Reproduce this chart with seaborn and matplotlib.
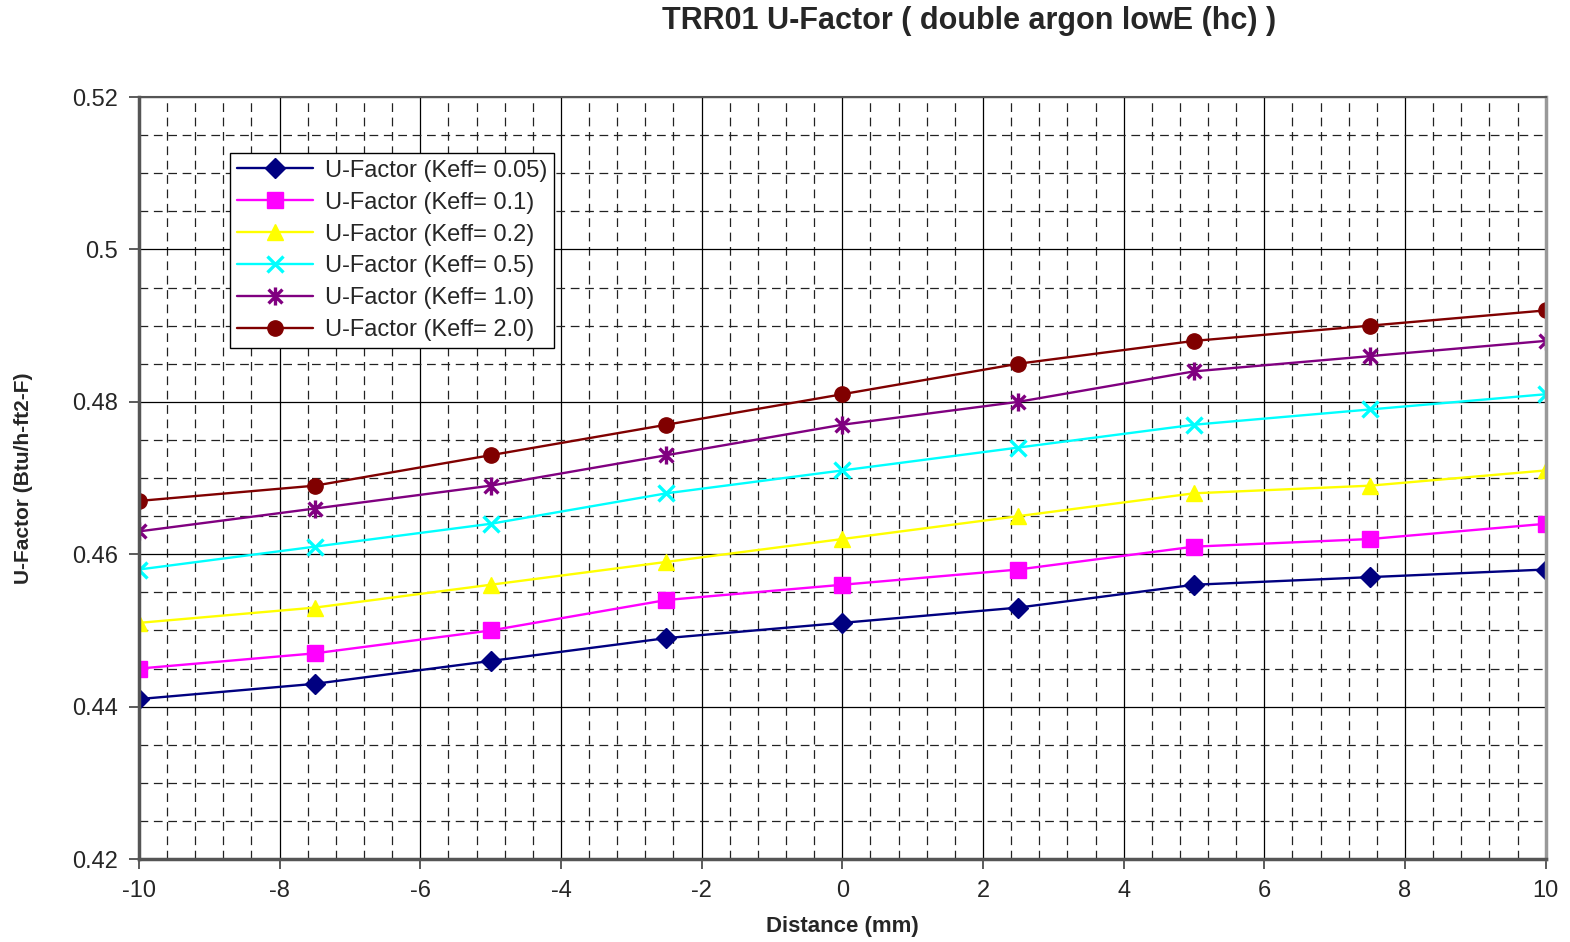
import numpy as np
import pandas as pd
import seaborn as sns
import matplotlib.pyplot as plt
import matplotlib.ticker as ticker
from matplotlib.path import Path

# --- data ---
distance = [-10, -7.5, -5, -2.5, 0, 2.5, 5, 7.5, 10]
series_names = ['U-Factor (Keff= 0.05)', 'U-Factor (Keff= 0.1)', 'U-Factor (Keff= 0.2)',
                'U-Factor (Keff= 0.5)', 'U-Factor (Keff= 1.0)', 'U-Factor (Keff= 2.0)']
keff_005 = [0.441, 0.443, 0.446, 0.449, 0.451, 0.453, 0.456, 0.457, 0.458]
keff_01  = [0.445, 0.447, 0.450, 0.454, 0.456, 0.458, 0.461, 0.462, 0.464]
keff_02  = [0.451, 0.453, 0.456, 0.459, 0.462, 0.465, 0.468, 0.469, 0.471]
keff_05  = [0.458, 0.461, 0.464, 0.468, 0.471, 0.474, 0.477, 0.479, 0.481]
keff_10  = [0.463, 0.466, 0.469, 0.473, 0.477, 0.480, 0.484, 0.486, 0.488]
keff_20  = [0.467, 0.469, 0.473, 0.477, 0.481, 0.485, 0.488, 0.490, 0.492]
x_ticks = [-10, -8, -6, -4, -2, 0, 2, 4, 6, 8, 10]
y_ticks = [0.42, 0.44, 0.46, 0.48, 0.5, 0.52]
y_tick_labels = ['0.42', '0.44', '0.46', '0.48', '0.5', '0.52']

colors = ['#000080', '#FF00FF', '#FFFF00', '#00FFFF', '#800080', '#800000']

# excel style star: x plus vertical bar
star = Path([(-1, -1), (1, 1), (-1, 1), (1, -1), (0, -1.3), (0, 1.3)],
            [Path.MOVETO, Path.LINETO, Path.MOVETO, Path.LINETO, Path.MOVETO, Path.LINETO])
markers = ['D', 's', '^', 'x', star, 'o']
msizes = [10, 11, 12, 12, 13, 11]

values = [keff_005, keff_01, keff_02, keff_05, keff_10, keff_20]
df = pd.concat([pd.DataFrame({'Distance': distance, 'U': v, 'Series': n})
                for n, v in zip(series_names, values)], ignore_index=True)

sns.set_style('white')
plt.rcParams['font.family'] = ['Liberation Sans', 'DejaVu Sans']

fig = plt.figure(figsize=(15.7, 9.42), dpi=100)
ax = fig.add_axes([0.0885, 0.088, 0.896, 0.809])

for name, c, m, ms in zip(series_names, colors, markers, msizes):
    sns.lineplot(data=df[df['Series'] == name], x='Distance', y='U', ax=ax,
                 color=c, marker=m, markersize=ms, markeredgecolor=c,
                 markeredgewidth=2.4 if (m == 'x' or m is star) else 1,
                 linewidth=1.7, label=name)

ax.set_xlim(-10, 10)
ax.set_ylim(0.42, 0.52)
ax.set_xticks(x_ticks)
ax.set_xticklabels([str(t) for t in x_ticks])
ax.set_yticks(y_ticks)
ax.set_yticklabels(y_tick_labels)
ax.xaxis.set_minor_locator(ticker.MultipleLocator(0.4))
ax.yaxis.set_minor_locator(ticker.MultipleLocator(0.005))
ax.grid(which='major', color='black', linewidth=0.9, linestyle='-')
ax.grid(which='minor', color='#222222', linewidth=0.9, linestyle=(0, (7, 4.5)))
ax.set_axisbelow(True)
ax.tick_params(axis='both', which='major', direction='out', length=7, width=1.2,
               color='#404040', labelsize=17, bottom=True, left=True, pad=8)
ax.tick_params(axis='both', which='minor', length=0)

ax.spines['left'].set_color('#555555')
ax.spines['left'].set_linewidth(2.5)
ax.spines['bottom'].set_color('#555555')
ax.spines['bottom'].set_linewidth(2.5)
ax.spines['top'].set_color('#555555')
ax.spines['top'].set_linewidth(1.5)
ax.spines['right'].set_color('#999999')
ax.spines['right'].set_linewidth(2.5)

ax.set_xlabel('Distance (mm)', fontsize=16, fontweight='bold')
ax.xaxis.set_label_coords(0.5, -0.075)
ax.set_ylabel('U-Factor (Btu/h-ft2-F)', fontsize=15, fontweight='bold', labelpad=28)

leg = ax.legend(loc='upper left', bbox_to_anchor=(0.065, 0.927), fontsize=17,
                frameon=True, fancybox=False, edgecolor='black', framealpha=1,
                handlelength=3.2, borderpad=0.3, labelspacing=0.42,
                handletextpad=0.5, borderaxespad=0)
leg.get_frame().set_linewidth(1.0)

fig.text(0.617, 0.978, 'TRR01 U-Factor ( double argon lowE (hc) )', ha='center', va='center',
         fontsize=22, fontweight='bold')

fig.savefig('out.png', dpi=100)
